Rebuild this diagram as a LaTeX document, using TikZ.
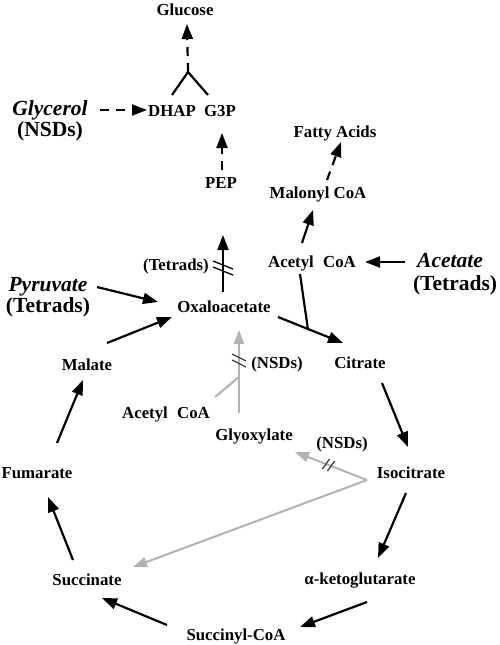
\documentclass[tikz,border=0pt]{standalone}
\usepackage{fontspec}
\setmainfont{Liberation Serif}
\usetikzlibrary{arrows.meta,calc}
\begin{document}
\begin{tikzpicture}[x=1pt,y=-1pt,
 lbl/.style={font=\bfseries\fontsize{16.8}{18}\selectfont, inner sep=0pt, text height=11pt, text depth=0pt},
 big/.style={font=\bfseries\fontsize{21.5}{24}\selectfont, inner sep=0pt, text height=14pt, text depth=0pt},
 bigit/.style={big, font=\bfseries\itshape\fontsize{21.5}{24}\selectfont},
 arr/.style={line width=2.2pt, -{Triangle[length=15pt,width=11pt]}},
 darr/.style={arr, dash pattern=on 9pt off 7pt},
 plain/.style={line width=2.2pt},
 hashb/.style={line width=1.3pt},
 garr/.style={line width=2pt, draw=gray!60, -{Triangle[length=14pt,width=10pt]}},
 gline/.style={line width=2pt, draw=gray!60},
 hashg/.style={line width=1.3pt, draw=black!75},
]
\useasboundingbox (0,0) rectangle (500,645);
\fill[white] (0,0) rectangle (500,645);

% nodes
\node[lbl] (glc) at (185,10) {Glucose};
\node[lbl] (dhap) at (172,111) {DHAP};
\node[lbl] (g3p) at (220,111) {G3P};
\node[bigit] (glyc) at (50,108) {Glycerol};
\node[big] (nsd1) at (50,129) {(NSDs)};
\node[lbl] (pep) at (221,183) {PEP};
\node[lbl] (fa) at (335,132) {Fatty Acids};
\node[lbl] (mal) at (318,193) {Malonyl CoA};
\node[lbl] (acoa1) at (312,262) {Acetyl\hspace{0.55em}CoA};
\node[bigit] (acet) at (450,260) {Acetate};
\node[big] (tet1) at (455,283) {(Tetrads)};
\node[bigit] (pyr) at (48,284) {Pyruvate};
\node[big] (tet2) at (48,305) {(Tetrads)};
\node[lbl] (tet3) at (176,265) {(Tetrads)};
\node[lbl] (oaa) at (224,307) {Oxaloacetate};
\node[lbl] (cit) at (360,363) {Citrate};
\node[lbl] (malate) at (87,365) {Malate};
\node[lbl] (acoa2) at (166,413) {Acetyl\hspace{0.55em}CoA};
\node[lbl] (nsd2) at (277,363) {(NSDs)};
\node[lbl] (glx) at (254,435) {Glyoxylate};
\node[lbl] (nsd3) at (342,443) {(NSDs)};
\node[lbl] (fum) at (37,473) {Fumarate};
\node[lbl] (iso) at (411,473) {Isocitrate};
\node[lbl] (akg) at (360,579) {α-ketoglutarate};
\node[lbl] (suc) at (87,580) {Succinate};
\node[lbl] (scoa) at (236,635) {Succinyl-CoA};

% gluconeogenesis top
\coordinate (fork) at ($(glc)+(3,62)$);
\draw[plain] ($(dhap)+(0,-16)$) -- (fork) -- ($(g3p)+(-12,-16)$);
\draw[darr] (fork) -- ($(glc)+(2,14)$);
\draw[darr] ($(glyc)+(50,2)$) -- ($(dhap)+(-25,-1)$);
\draw[darr] ($(pep)+(1,-13)$) -- ($(g3p)+(2,22)$);
\draw[arr] ($(oaa)+(-1,-15)$) -- ($(pep)+(2,52)$);
\draw[hashb] ($(oaa)+(-11,-46)$) -- ($(oaa)+(9,-38)$);
\draw[hashb] ($(oaa)+(-11,-40)$) -- ($(oaa)+(9,-32)$);

% fatty acids
\draw[darr] ($(mal)+(9,-13)$) -- ($(fa)+(6,10)$);
\draw[arr] ($(acoa1)+(-10,-19)$) -- ($(mal)+(-5,17)$);
\draw[arr] ($(acet)+(-45,2)$) -- ($(acoa1)+(53,0)$);

% TCA cycle
\coordinate (oc1) at ($(oaa)+(54,10)$);
\coordinate (oc2) at ($(cit)+(-17,-20)$);
\draw[arr] (oc1) -- (oc2);
\draw[plain] ($(acoa1)+(-12,12)$) -- ($(oc1)!0.46!(oc2)$);
\draw[arr] ($(cit)+(22,20)$) -- ($(iso)+(-3,-26)$);
\draw[arr] ($(iso)+(-5,20)$) -- ($(akg)+(18,-21)$);
\draw[arr] ($(akg)+(7,23)$) -- ($(scoa)+(64,-8)$);
\draw[arr] ($(scoa)+(-69,-10)$) -- ($(suc)+(15,18)$);
\draw[arr] ($(suc)+(-14,-20)$) -- ($(fum)+(11,24)$);
\draw[arr] ($(fum)+(20,-30)$) -- ($(malate)+(-4,15)$);
\draw[arr] ($(malate)+(20,-22)$) -- ($(oaa)+(-52,10)$);
\draw[arr] ($(pyr)+(49,3)$) -- ($(oaa)+(-66,-5)$);

% glyoxylate shunt (gray)
\coordinate (iv) at ($(iso)+(-44,7)$);
\coordinate (gt) at ($(glx)+(41,17)$);
\draw[garr] (iv) -- (gt);
\draw[garr] (iv) -- ($(suc)+(46,-13)$);
\draw[hashg] ($(iv)!0.50!(gt)+(-3.5,5)$) -- ++(7,-10);
\draw[hashg] ($(iv)!0.57!(gt)+(-3.5,5)$) -- ++(7,-10);
\coordinate (gj) at ($(glx)+(-15,-58)$);
\draw[garr] ($(glx)+(-15,-22)$) -- ($(oaa)+(15,23)$);
\draw[gline] ($(acoa2)+(49,-16)$) -- (gj);
\draw[hashg] ($(oaa)+(8,47)$) -- ++(14,7);
\draw[hashg] ($(oaa)+(8,53)$) -- ++(14,7);
\end{tikzpicture}
\end{document}
